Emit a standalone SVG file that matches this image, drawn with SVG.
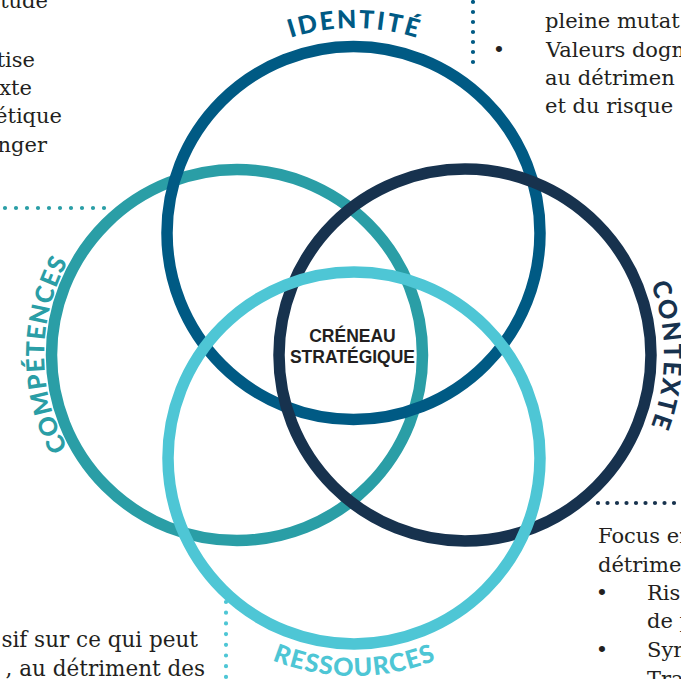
<svg xmlns="http://www.w3.org/2000/svg" xmlns:xlink="http://www.w3.org/1999/xlink" width="681" height="679" viewBox="0 0 681 679">
<style>
.ring{fill:none;stroke-width:11.5}
.lbl{font-family:Lato,"Open Sans","DejaVu Sans",sans-serif;font-weight:900;font-size:25px}
.body{font-family:"DejaVu Serif",serif;font-size:21px;fill:#231f20}
.dots{fill:none;stroke-width:4.2;stroke-linecap:round}
.center{font-family:"Liberation Sans",Arial,sans-serif;font-weight:700;font-size:17.5px;fill:#231f20;text-anchor:middle}
</style>
<defs>
<path id="pId" d="M 148.5 233 A 205 205 0 0 1 558.5 233"/>
<path id="pComp" d="M 237 548 A 193 193 0 0 1 237 162"/>
<path id="pCtx" d="M 465 156 A 199 199 0 0 1 465 554"/>
<path id="pRes" d="M 136 458 A 218 218 0 0 0 572 458"/>
</defs>
<rect width="681" height="679" fill="#ffffff"/>

<g id="connectors">
<line class="dots" x1="5" y1="208" x2="105" y2="208" stroke="#2a9ea6" stroke-dasharray="0 11"/>
<line class="dots" x1="473" y1="2" x2="473" y2="72" stroke="#005a84" stroke-dasharray="0 10"/>
<line class="dots" x1="598" y1="503" x2="681" y2="503" stroke="#17324e" stroke-dasharray="0 9.5"/>
<line class="dots" x1="226" y1="602" x2="226" y2="679" stroke="#4ec6d5" stroke-dasharray="0 10.7"/>
</g>

<g id="competences">
<circle class="ring" cx="237" cy="355" r="185.5" stroke="#2a9ea6"/>
<text class="lbl" fill="#2a9ea6"><textPath xlink:href="#pComp" href="#pComp" startOffset="50%" text-anchor="middle" textLength="194" lengthAdjust="spacing">COMPÉTENCES</textPath></text>
</g>
<g id="identite">
<circle class="ring" cx="353.5" cy="233" r="186.5" stroke="#005a84"/>
<text class="lbl" fill="#005a84"><textPath xlink:href="#pId" href="#pId" startOffset="50%" text-anchor="middle" textLength="128" lengthAdjust="spacing">IDENTITÉ</textPath></text>
</g>
<g id="contexte">
<circle class="ring" cx="465" cy="355" r="186" stroke="#17324e"/>
<text class="lbl" fill="#17324e"><textPath xlink:href="#pCtx" href="#pCtx" startOffset="50%" text-anchor="middle" textLength="145" lengthAdjust="spacing">CONTEXTE</textPath></text>
</g>
<g id="ressources">
<circle class="ring" cx="354" cy="458" r="186" stroke="#4ec6d5"/>
<text class="lbl" fill="#4ec6d5"><textPath xlink:href="#pRes" href="#pRes" startOffset="50%" text-anchor="middle" textLength="168" lengthAdjust="spacing">RESSOURCES</textPath></text>
</g>

<g id="creneau">
<text class="center" x="352.5" y="342">CRÉNEAU</text>
<text class="center" x="352.5" y="363">STRATÉGIQUE</text>
</g>

<g id="note-top-left" class="body" text-anchor="end">
<text x="48" y="8">tude</text>
<text x="35" y="67">tise</text>
<text x="32" y="95">xte</text>
<text x="62" y="123">étique</text>
<text x="47" y="152">nger</text>
</g>

<g id="note-top-right" class="body">
<text x="545" y="28">pleine mutat</text>
<text x="499" y="57" text-anchor="middle">•</text>
<text x="546" y="57">Valeurs dogm</text>
<text x="545" y="85">au détrimen</text>
<text x="545" y="113">et du risque</text>
</g>

<g id="note-bottom-right" class="body">
<text x="598" y="543">Focus en</text>
<text x="598" y="572">détrimen</text>
<text x="602" y="600" text-anchor="middle">•</text>
<text x="647" y="600">Ris</text>
<text x="647" y="628">de p</text>
<text x="602" y="657" text-anchor="middle">•</text>
<text x="647" y="657">Sym</text>
<text x="647" y="686">Tra</text>
</g>

<g id="note-bottom-left" class="body" text-anchor="end">
<text x="198" y="647" font-size="21.5">sif sur ce qui peut</text>
<text x="205" y="676" font-size="21.5">, au détriment des</text>
</g>
</svg>
